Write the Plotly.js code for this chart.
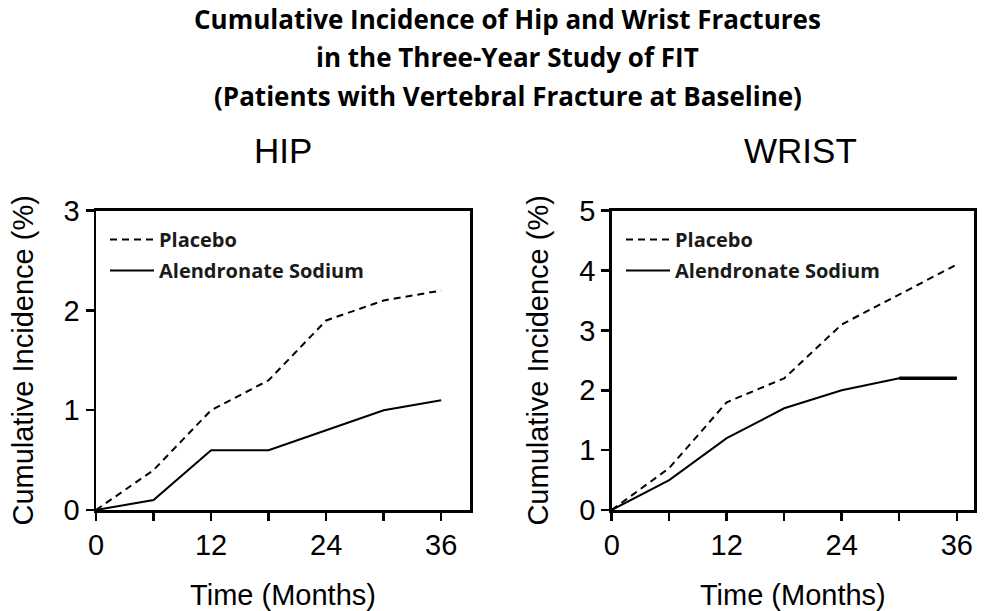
<!DOCTYPE html>
<html>
<head>
<meta charset="utf-8">
<script src="https://cdn.plot.ly/plotly-3.0.1.min.js"></script>
<style>html,body{margin:0;padding:0;background:#fff;}#chart{width:985px;height:611px;}</style>
</head>
<body>
<div id="chart"></div>
<script>
// ---- data ----
const months = [0, 6, 12, 18, 24, 30, 36];
const hipPlacebo = [0, 0.4, 1.0, 1.3, 1.9, 2.1, 2.2];
const hipAlendronate = [0, 0.1, 0.6, 0.6, 0.8, 1.0, 1.1];
const wristPlacebo = [0, 0.7, 1.8, 2.2, 3.1, 3.6, 4.1];
const wristAlendronate = [0, 0.5, 1.2, 1.7, 2.0, 2.2, 2.2];
const xTickVals = [0, 6, 12, 18, 24, 30, 36];
const xTickText = ['0', '', '12', '', '24', '', '36'];
const hipYTicks = [0, 1, 2, 3];
const wristYTicks = [0, 1, 2, 3, 4, 5];
const seriesNames = ['Placebo', 'Alendronate Sodium'];
const panelTitles = ['HIP', 'WRIST'];
const titleLines = [
  'Cumulative Incidence of Hip and Wrist Fractures',
  'in the Three-Year Study of FIT',
  '(Patients with Vertebral Fracture at Baseline)'
];

const W = 985, H = 611;
const arial = 'Liberation Sans, Arial, sans-serif';
const sansB = 'Open Sans, Noto Sans, sans-serif';

const dashLine = {color: '#000', width: 2, dash: '7px,5px'};
const solidLine = {color: '#000', width: 2};

const traces = [
  {x: months, y: hipPlacebo, name: seriesNames[0], mode: 'lines', line: dashLine,
   xaxis: 'x', yaxis: 'y', legend: 'legend', legendgroup: 'a'},
  {x: months, y: hipAlendronate, name: seriesNames[1], mode: 'lines', line: solidLine,
   xaxis: 'x', yaxis: 'y', legend: 'legend', legendgroup: 'b'},
  {x: months, y: wristPlacebo, name: seriesNames[0], mode: 'lines', line: dashLine,
   xaxis: 'x2', yaxis: 'y2', legend: 'legend2', legendgroup: 'c'},
  {x: months, y: wristAlendronate, name: seriesNames[1], mode: 'lines', line: solidLine,
   xaxis: 'x2', yaxis: 'y2', legend: 'legend2', legendgroup: 'd'},
  {x: months.slice(5), y: wristAlendronate.slice(5), mode: 'lines', line: {color: '#000', width: 3.5},
   xaxis: 'x2', yaxis: 'y2', showlegend: false, hoverinfo: 'skip'}
];

const px = v => v / W;
const py = v => 1 - v / H;

function xAxis(dom, range, anchor) {
  return {
    domain: dom, range: range, anchor: anchor, tickvals: xTickVals, ticktext: xTickText,
    showline: true, mirror: true, linecolor: '#000', linewidth: 2.5,
    ticks: 'outside', ticklen: 8, tickwidth: 2.5, tickcolor: '#000',
    showgrid: false, zeroline: false, automargin: false,
    tickfont: {family: arial, size: 29, color: '#000'},
    title: {text: 'Time (Months)', font: {family: arial, size: 29, color: '#000'}, standoff: 26}
  };
}
function yAxis(range, ticks, anchor) {
  return {
    domain: [py(510), py(210.7)], range: range, tickvals: ticks, anchor: anchor,
    showline: true, mirror: true, linecolor: '#000', linewidth: 2.5,
    ticks: 'outside', ticklen: 8, tickwidth: 2.5, tickcolor: '#000',
    showgrid: false, zeroline: false, automargin: false,
    tickfont: {family: arial, size: 29, color: '#000'},
    title: {text: 'Cumulative Incidence (%)', font: {family: arial, size: 29, color: '#000'}, standoff: 22}
  };
}

const legendBase = {
  bgcolor: 'rgba(0,0,0,0)', borderwidth: 0, xanchor: 'left', yanchor: 'top',
  font: {family: sansB, size: 20, color: '#1a1a1a', weight: 'bold'},
  tracegroupgap: 2, traceorder: 'grouped', itemwidth: 44
};

const annotations = titleLines.map((t, i) => ({
  text: '<b>' + t + '</b>', xref: 'paper', yref: 'paper', x: px(508), y: py([19, 57, 96][i]),
  xanchor: 'center', yanchor: 'middle', showarrow: false,
  font: {family: sansB, size: 26, color: '#000'}
}));
annotations.push({text: panelTitles[0], xref: 'paper', yref: 'paper', x: px(283), y: py(150),
  xanchor: 'center', yanchor: 'middle', showarrow: false, font: {family: arial, size: 35, color: '#000'}});
annotations.push({text: panelTitles[1], xref: 'paper', yref: 'paper', x: px(800), y: py(150),
  xanchor: 'center', yanchor: 'middle', showarrow: false, font: {family: arial, size: 35, color: '#000'}});

const layout = {
  width: W, height: H,
  margin: {l: 0, r: 0, t: 0, b: 0},
  paper_bgcolor: '#fff', plot_bgcolor: '#fff',
  showlegend: true,
  xaxis: xAxis([px(96), px(470)], [0, 39], 'y'),
  yaxis: yAxis([0, 3], hipYTicks, 'x'),
  xaxis2: xAxis([px(611.7), px(974)], [0, 37.8], 'y2'),
  yaxis2: yAxis([0, 5], wristYTicks, 'x2'),
  legend: Object.assign({}, legendBase, {x: px(105), y: py(220)}),
  legend2: Object.assign({}, legendBase, {x: px(621), y: py(220)}),
  annotations: annotations
};

Plotly.newPlot('chart', traces, layout, {displayModeBar: false, staticPlot: true});
</script>
</body>
</html>
